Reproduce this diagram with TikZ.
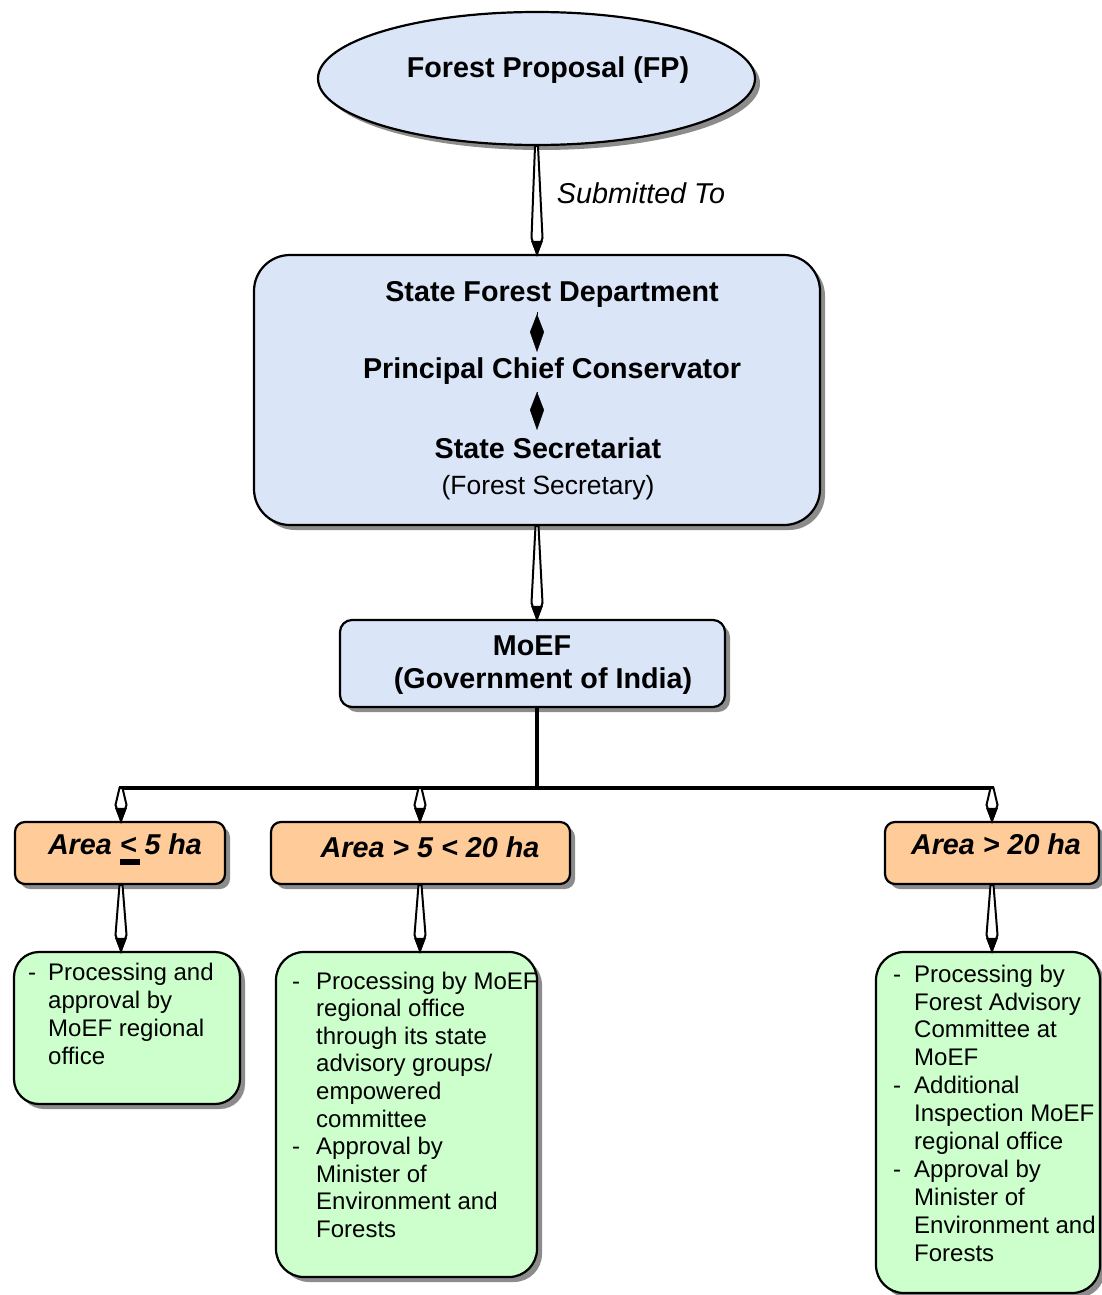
\documentclass[tikz,border=0pt]{standalone}
\usepackage{fontspec}
\setmainfont{Liberation Sans}
\usetikzlibrary{shapes.geometric,shadows,calc,arrows.meta}
\definecolor{bluefill}{RGB}{219,229,248}
\definecolor{orangefill}{RGB}{255,204,153}
\definecolor{greenfill}{RGB}{204,255,204}
\newcommand{\bigfont}{\fontsize{28.7}{34}\selectfont}
\newcommand{\tconn}[2]{\draw[taper] (#1) to (#2); \fill[tapertip] (#1) to (#2);}
\begin{document}
\begin{tikzpicture}[x=1pt,y=-1pt,
  boxshadow/.style={general shadow={fill=black!45, shadow xshift=5pt, shadow yshift=-5pt}},
  shapebox/.style={draw=black, line width=2.2pt, boxshadow, inner sep=0pt},
  bluebox/.style={shapebox, fill=bluefill, rectangle},
  areabox/.style={shapebox, fill=orangefill, rectangle, rounded corners=10pt, minimum height=62pt},
  notebox/.style={shapebox, fill=greenfill, rectangle, rounded corners=28pt},
  txt/.style={inner sep=0pt, font=\bigfont\bfseries, anchor=base},
  areatxt/.style={inner sep=0pt, font=\bigfont\bfseries\itshape, anchor=base},
  notetxt/.style={inner sep=0pt, align=left, anchor=north west},
  taper/.style={draw=black, line width=2pt, fill=white, line join=miter, to path={
     ($(\tikztostart)+(-1.5,0)$) -- ($(\tikztotarget)+(-5.5,-16)$) -- (\tikztotarget) -- ($(\tikztotarget)+(5.5,-16)$) -- ($(\tikztostart)+(1.5,0)$) -- cycle}},
  tapertip/.style={fill=black, to path={
     ($(\tikztotarget)+(-6,-13)$) -- ($(\tikztotarget)+(0,2)$) -- ($(\tikztotarget)+(6,-13)$) -- cycle}},
  kitearrow/.style={line width=0.4pt, -{Kite[length=38pt,width=14pt,inset=18pt]}},
  busline/.style={line width=4.5pt},
]
\useasboundingbox (0,0) rectangle (1102,1295);

% top ellipse
\node[ellipse, shapebox, fill=bluefill, minimum width=437pt, minimum height=133pt] (fp) at (536.5,78.5) {};
\node[txt] (fpt) at (548,78) {Forest Proposal (FP)};

% state box
\node[bluebox, rounded corners=36pt, minimum width=566pt, minimum height=270pt] (sfbox) at (537,390) {};
\node[txt] (sfd) at (552,301) {State Forest Department};
\node[txt] (pcc) at (552,378) {Principal Chief Conservator};
\node[txt] (ssec) at (548,458) {State Secretariat};
\node[inner sep=0pt, font=\fontsize{26.4}{30}\selectfont, anchor=base] (fsec) at (548,494.5) {(Forest Secretary)};
\draw[kitearrow, shorten <=5pt, shorten >=5pt] (sfd.south -| sfbox.center) -- (pcc.north -| sfbox.center);
\draw[kitearrow, shorten <=8pt, shorten >=7pt] (pcc.south -| sfbox.center) -- (ssec.north -| sfbox.center);

% submitted to
\tconn{fp.south}{sfbox.north}
\node[inner sep=0pt, font=\bigfont\itshape] (sub) at (641,193) {Submitted To};

% MoEF
\node[bluebox, rounded corners=12pt, minimum width=385pt, minimum height=87pt] (moef) at (532.5,663.5) {};
\node[txt] (moeft) at (532,655) {MoEF};
\node[txt] (goi) at (543,688) {(Government of India)};
\tconn{sfbox.south}{moef.north -| sfbox.south}

% bus
\coordinate (jM) at (537,788);
\coordinate (jL) at (121,788);
\coordinate (jC) at (420,788);
\coordinate (jR) at (992,788);
\draw[line width=4pt] (moef.south -| jM) -- (jM);
\draw[busline, line cap=rect] (jL) -- (jR);

% area boxes
\node[areabox, minimum width=210pt] (a1) at (120,853) {};
\node[areabox, minimum width=299pt] (a2) at (420.5,853) {};
\node[areabox, minimum width=214pt] (a3) at (992,853) {};
\node[areatxt] (t1) at (125,854) {Area \rlap{\rule[-11pt]{20pt}{6pt}}< 5 ha};
\node[areatxt] (t2) at (430,857) {Area > 5 < 20 ha};
\node[areatxt] (t3) at (996,854) {Area > 20 ha};
\tconn{jL}{a1.north -| jL}
\tconn{jC}{a2.north -| jC}
\tconn{jR}{a3.north -| jR}

% note boxes
\node[notebox, rounded corners=25pt, minimum width=226pt, minimum height=152pt] (g1) at (127,1028) {};
\node[notebox, minimum width=261pt, minimum height=325pt] (g2) at (406.5,1114.5) {};
\node[notebox, minimum width=224pt, minimum height=341pt] (g3) at (988,1122.5) {};
\tconn{a1.south -| jL}{g1.north -| jL}
\tconn{a2.south -| jC}{g2.north -| jC}
\tconn{a3.south -| jR}{g3.north -| jR}

\node[notetxt, font=\fontsize{24}{28}\selectfont] (n1) at (28,962.5)
 {\makebox[20pt][l]{-}Processing and\\
  \hspace*{20pt}approval by\\
  \hspace*{20pt}MoEF regional\\
  \hspace*{20pt}office};
\node[notetxt, font=\fontsize{24}{27.6}\selectfont] (n2) at (292,971.5)
 {\makebox[24pt][l]{-}Processing by MoEF\\
  \hspace*{24pt}regional office\\
  \hspace*{24pt}through its state\\
  \hspace*{24pt}advisory groups/\\
  \hspace*{24pt}empowered\\
  \hspace*{24pt}committee\\
  \makebox[24pt][l]{-}Approval by\\
  \hspace*{24pt}Minister of\\
  \hspace*{24pt}Environment and\\
  \hspace*{24pt}Forests};
\node[notetxt, font=\fontsize{24}{27.9}\selectfont] (n3) at (893,964.5)
 {\makebox[21pt][l]{-}Processing by\\
  \hspace*{21pt}Forest Advisory\\
  \hspace*{21pt}Committee at\\
  \hspace*{21pt}MoEF\\
  \makebox[21pt][l]{-}Additional\\
  \hspace*{21pt}Inspection MoEF\\
  \hspace*{21pt}regional office\\
  \makebox[21pt][l]{-}Approval by\\
  \hspace*{21pt}Minister of\\
  \hspace*{21pt}Environment and\\
  \hspace*{21pt}Forests};
\end{tikzpicture}
\end{document}
